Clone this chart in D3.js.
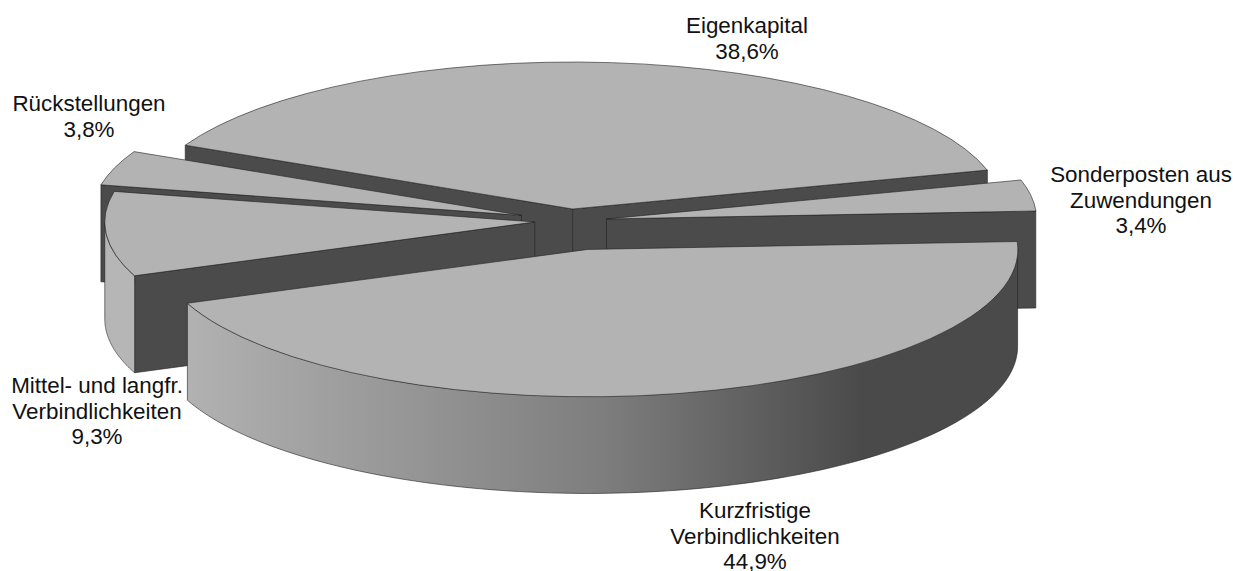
<!DOCTYPE html>
<html><head><meta charset="utf-8">
<script src="https://cdn.jsdelivr.net/npm/d3@7/dist/d3.min.js"></script>
<style>html,body{margin:0;background:#fff}svg{display:block}text{font-family:"Liberation Sans",Arial,sans-serif;font-size:22.4px;fill:#111;text-anchor:middle}</style>
</head><body><svg id="c" width="1233" height="571"></svg>
<script>
const categories = ["Eigenkapital","Sonderposten aus Zuwendungen","Kurzfristige Verbindlichkeiten","Mittel- und langfr. Verbindlichkeiten","Rückstellungen"];
const values = [38.6,3.4,44.9,9.3,3.8];
const valueLabels = ["38,6%","3,4%","44,9%","9,3%","3,8%"];
const labelLines = [["Eigenkapital"],["Sonderposten aus","Zuwendungen"],["Kurzfristige","Verbindlichkeiten"],["Mittel- und langfr.","Verbindlichkeiten"],["Rückstellungen"]];
const explode = [0.082,0.087,0.198,0.081,0.118];

// layout
const W=1233,H=571, rx=430, ry=147, depth=97, cx=569.5, cy=221;
const labelAnchors=[[747,33],[1141,182],[755,518],[97,393],[89,111]];
const lineHeight=25.7;
const TOP="#b3b3b3", CUT="#4b4b4b", EDGE="#222";
const drawOrder=[0,4,1,3,2];
// which cut faces of each slice look towards the viewer
const visibleCuts=[["startAngle","endAngle"],["endAngle"],[],["startAngle"],["startAngle"]];

const svg=d3.select("#c");
const rad=d=>d*Math.PI/180;
const pie=d3.pie().sort(null).startAngle(rad(-64.3)).endAngle(rad(295.7));
const arcs=pie(values);

// unit disc -> screen: 0 = up, clockwise, squashed to an ellipse
const sx=d3.scaleLinear().domain([-1,1]).range([-rx,rx]);
const sy=d3.scaleLinear().domain([-1,1]).range([-ry,ry]);
const unit=d3.arc().innerRadius(0).outerRadius(1);

const g=svg.append("defs").append("linearGradient").attr("id","wall").attr("gradientUnits","userSpaceOnUse")
  .attr("x1",cx-rx+15).attr("x2",cx+rx-100).attr("y1",0).attr("y2",0);
[[0,"#b6b6b6"],[0.12,"#aaaaaa"],[0.6,"#7e7e7e"],[0.95,"#4a4a4a"],[1,"#4a4a4a"]].forEach(s=>
  g.append("stop").attr("offset",s[0]).attr("stop-color",s[1]));

const line=d3.line().curve(d3.curveLinearClosed);
drawOrder.forEach(i=>{
  const a=arcs[i], mid=(a.startAngle+a.endAngle)/2, e=explode[i];
  const ax=cx+sx(e*Math.sin(mid)), ay=cy+sy(-e*Math.cos(mid));
  const P=t=>[ax+sx(Math.sin(t)),ay+sy(-Math.cos(t))];
  const cut=t=>{const p=P(t);return [[ax,ay],p,[p[0],p[1]+depth],[ax,ay+depth]];};
  const s=svg.append("g").attr("class","slice").datum(categories[i]);
  visibleCuts[i].forEach(k=>s.append("path").attr("d",line(cut(a[k]))).attr("fill",CUT).attr("stroke",EDGE).attr("stroke-width",0.6));
  // outer wall: the part of the rim on the front half
  const t0=Math.max(a.startAngle,Math.PI/2), t1=Math.min(a.endAngle,1.5*Math.PI);
  if(t1>t0){
    const up=d3.range(0,121).map(k=>P(t0+(t1-t0)*k/120)), dn=up.map(p=>[p[0],p[1]+depth]).reverse();
    s.append("path").attr("d",line(up.concat(dn))).attr("fill","url(#wall)").attr("stroke",EDGE).attr("stroke-width",0.6);
  }
  s.append("path")
    .attr("d",unit({startAngle:a.startAngle,endAngle:a.endAngle}))
    .attr("transform",`translate(${ax},${ay}) scale(${rx},${ry})`)
    .attr("fill",TOP).attr("stroke",EDGE).attr("stroke-width",0.6).attr("vector-effect","non-scaling-stroke");
});

categories.forEach((c,i)=>{
  const t=svg.append("text").attr("x",labelAnchors[i][0]).attr("y",labelAnchors[i][1]);
  labelLines[i].concat(valueLabels[i]).forEach((l,k)=>{
    t.append("tspan").attr("x",labelAnchors[i][0]).attr("dy",k?lineHeight:0).text(l);
  });
});
</script></body></html>
